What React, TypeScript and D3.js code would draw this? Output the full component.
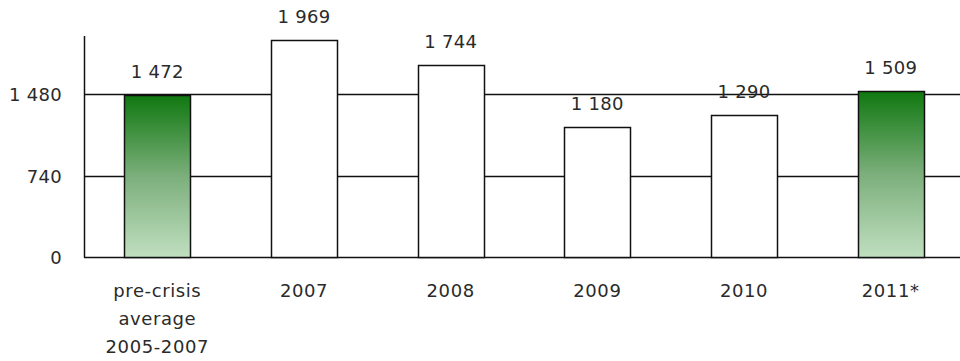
import React from "react";
import * as d3 from "d3";

const categories: string[][] = [
  ["pre-crisis", "average", "2005-2007"],
  ["2007"],
  ["2008"],
  ["2009"],
  ["2010"],
  ["2011*"],
];
const values: number[] = [1472, 1969, 1744, 1180, 1290, 1509];
const highlighted: boolean[] = [true, false, false, false, false, true];
const valueLabels: string[] = ["1 472", "1 969", "1 744", "1 180", "1 290", "1 509"];
const yTicks: number[] = [0, 740, 1480];
const yTickLabels: string[] = ["0", "740", "1 480"];

const W = 960;
const H = 361;
const FONT = "'DejaVu Sans', Verdana, sans-serif";

export default function App() {
  const keys = categories.map((_, i) => String(i));
  const x = d3
    .scaleBand<string>()
    .domain(keys)
    .range([84, 964])
    .paddingInner(0.55)
    .paddingOuter(0.275);
  const y = d3.scaleLinear().domain([0, 1480]).range([257, 94]);
  const axisTop = y(2007);
  const stroke = "#111";
  const sw = 1.5;
  const textFill = "#2a2a2a";

  return (
    <svg
      width={W}
      height={H}
      style={{ position: "absolute", left: 0, top: 0, background: "#fff" }}
    >
      <defs>
        <linearGradient id="greenGrad" x1="0" y1="0" x2="0" y2="1">
          <stop offset="0%" stopColor="#107810" />
          <stop offset="50%" stopColor="#7caf7c" />
          <stop offset="100%" stopColor="#c0dfc0" />
        </linearGradient>
      </defs>
      <rect x={0} y={0} width={W} height={H} fill="#fff" />
      {yTicks.map((t) => (
        <line
          key={"g" + t}
          x1={84}
          x2={W}
          y1={Math.round(y(t)) + 0.5}
          y2={Math.round(y(t)) + 0.5}
          stroke={stroke}
          strokeWidth={sw}
        />
      ))}
      <line
        x1={84.5}
        x2={84.5}
        y1={axisTop}
        y2={Math.round(y(0)) + 0.5}
        stroke={stroke}
        strokeWidth={sw}
      />
      {yTicks.map((t, i) => (
        <text
          key={"yl" + t}
          x={62}
          y={y(t) + 7}
          textAnchor="end"
          fontFamily={FONT}
          fontSize={18}
          letterSpacing={0.3}
          fill={textFill}
        >
          {yTickLabels[i]}
        </text>
      ))}
      {values.map((v, i) => {
        const bx = Math.round(x(keys[i]) as number) + 0.5;
        const by = Math.round(y(v)) + 0.5;
        const bw = Math.round(x.bandwidth());
        const bh = Math.round(y(0)) + 0.5 - by;
        return (
          <rect
            key={"b" + i}
            x={bx}
            y={by}
            width={bw}
            height={bh}
            fill={highlighted[i] ? "url(#greenGrad)" : "#fff"}
            stroke={stroke}
            strokeWidth={sw}
          />
        );
      })}
      {values.map((v, i) => (
        <text
          key={"v" + i}
          x={(x(keys[i]) as number) + x.bandwidth() / 2}
          y={y(v) - 17}
          textAnchor="middle"
          fontFamily={FONT}
          fontSize={18}
          letterSpacing={0.3}
          fill={textFill}
        >
          {valueLabels[i]}
        </text>
      ))}
      {categories.map((lines, i) => (
        <text
          key={"c" + i}
          textAnchor="middle"
          fontFamily={FONT}
          fontSize={18}
          letterSpacing={0.6}
          fill={textFill}
        >
          {lines.map((ln, j) => (
            <tspan
              key={j}
              x={(x(keys[i]) as number) + x.bandwidth() / 2}
              y={297 + j * 28}
            >
              {ln}
            </tspan>
          ))}
        </text>
      ))}
    </svg>
  );
}
